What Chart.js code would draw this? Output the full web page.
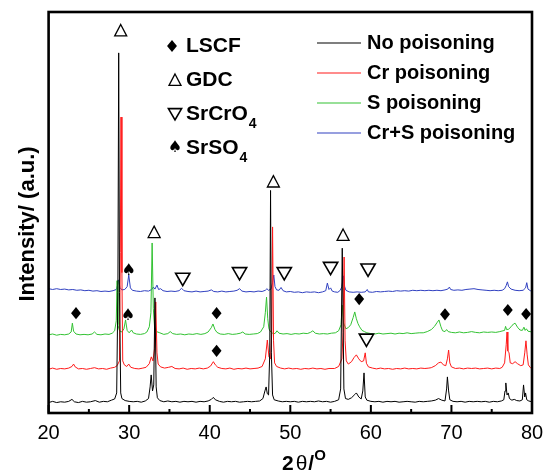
<!DOCTYPE html>
<html><head><meta charset="utf-8">
<script src="https://cdn.jsdelivr.net/npm/chart.js@4.4.0/dist/chart.umd.min.js"></script>
<style>html,body{margin:0;padding:0;background:#fff}</style>
</head><body>
<canvas id="c" width="544" height="475"></canvas>
<script>
// ---- DATA (2θ, intensity a.u. with vertical offsets as in the figure) ----
const seriesNames = ['No poisoning', 'Cr poisoning', 'S poisoning', 'Cr+S poisoning'];
const seriesColors = ['#000000', '#ff1a1a', '#33c233', '#3040c0'];

const noPoisoning = [[20,2.6],[20.5,2.9],[21,2.6],[21.5,2.8],[22,2.7],[22.5,2.9],[22.9,3.4],[23.2,2.8],[23.7,2.6],[24.2,2.9],[24.7,2.7],[25.2,2.8],[25.8,3.1],[26.3,2.7],[26.8,2.9],[27.3,2.8],[27.8,3.2],[28.2,3.5],[28.45,5],[28.6,30],[28.7,89.8],[28.8,30],[28.95,5],[29.1,3.6],[29.5,3.1],[30,2.9],[30.5,2.8],[31,2.9],[31.5,2.7],[32,3.0],[32.4,3.6],[32.6,6.5],[32.73,9.5],[32.9,5.5],[33.05,7],[33.2,28.7],[33.35,6.5],[33.5,3.8],[33.8,3.1],[34.3,2.8],[34.8,3.0],[35.3,2.8],[35.8,2.9],[36.3,2.7],[36.8,2.9],[37.3,2.8],[37.8,2.9],[38.3,2.7],[38.8,2.9],[39.3,2.8],[39.8,3.0],[40.2,3.4],[40.45,3.9],[40.7,3.3],[41.2,2.9],[41.7,2.7],[42.2,2.9],[42.7,2.8],[43.2,2.9],[43.7,2.7],[44.2,2.8],[44.7,2.9],[45.2,2.8],[45.7,2.9],[46.2,3.0],[46.6,3.6],[46.85,5.5],[47.0,6.5],[47.15,4.8],[47.3,4.5],[47.45,15],[47.55,55.5],[47.65,15],[47.8,4.5],[48,3.3],[48.5,3.0],[49,2.8],[49.5,2.9],[50,2.8],[50.5,2.9],[51,2.7],[51.5,2.9],[52,2.8],[52.5,2.9],[53,2.8],[53.5,3.0],[54,2.8],[54.5,2.9],[55,2.7],[55.5,2.9],[56,3.3],[56.25,6],[56.45,41.1],[56.65,6],[56.85,3.6],[57.2,3.4],[57.6,3.8],[58,4.6],[58.2,5.0],[58.5,4.0],[58.8,3.5],[59,5.5],[59.15,10],[59.3,4],[59.5,3.2],[60,2.9],[60.5,2.8],[61,2.9],[61.5,2.7],[62,2.9],[62.5,2.8],[63,2.9],[63.5,2.7],[64,2.8],[64.5,2.9],[65,2.8],[65.5,2.7],[66,2.9],[66.5,2.8],[67,2.9],[67.5,3.0],[68,3.2],[68.4,3.6],[68.8,3.2],[69.2,3.0],[69.4,6],[69.5,9.0],[69.65,5.5],[69.8,3.3],[70.2,2.9],[70.7,2.8],[71.2,2.9],[71.7,2.7],[72.2,2.9],[72.7,2.8],[73.2,2.9],[73.7,2.8],[74.2,2.9],[74.7,2.7],[75.2,2.9],[75.7,2.8],[76.2,3.0],[76.5,3.3],[76.65,5.5],[76.75,7.5],[76.9,4.5],[77.05,5.0],[77.2,3.6],[77.5,3.2],[77.8,3.4],[78.1,3.1],[78.5,3.0],[78.8,3.3],[78.95,7.0],[79.1,4.0],[79.2,5.0],[79.35,3.3],[79.6,3.0],[80,2.8]];

const crPoisoning = [[20,10.9],[20.5,11.2],[21,10.9],[21.5,11.1],[22,11.0],[22.5,11.2],[22.9,11.6],[23.1,12.2],[23.3,11.5],[23.7,11.0],[24.2,11.1],[24.7,10.9],[25.2,11.1],[25.7,11.3],[26.2,11.0],[26.7,11.1],[27.2,10.9],[27.7,11.2],[28.2,11.4],[28.5,11.8],[28.8,13],[28.9,40],[28.99,73.8],[29.1,35],[29.2,13],[29.4,12.0],[29.7,11.6],[29.95,12.2],[30.2,11.4],[30.7,11.1],[31.2,11.0],[31.7,11.2],[32.1,11.4],[32.5,12.3],[32.75,14.0],[32.95,13],[33.15,16],[33.3,27.7],[33.45,15],[33.6,12.2],[33.9,11.5],[34.4,11.2],[34.9,11.4],[35.3,11.6],[35.7,11.1],[36.2,11.0],[36.7,11.2],[37.2,10.9],[37.7,11.1],[38.2,11.0],[38.7,11.2],[39.2,11.0],[39.7,11.2],[40.1,11.7],[40.45,12.8],[40.7,12.0],[41,11.4],[41.5,11.1],[42,11.0],[42.5,11.2],[43,10.9],[43.5,11.1],[44,11.0],[44.5,11.2],[45,11.0],[45.5,11.1],[46,11.2],[46.5,11.6],[46.9,13.5],[47.15,18.2],[47.35,14.0],[47.55,13.5],[47.7,20],[47.8,46.4],[47.92,18],[48.05,12.5],[48.3,11.6],[48.8,11.2],[49.3,11.0],[49.8,11.2],[50.3,11.0],[50.8,11.1],[51.3,10.9],[51.8,11.1],[52.3,11.0],[52.8,11.2],[53.3,11.0],[53.8,11.1],[54.3,10.9],[54.8,11.1],[55.5,11.1],[56,11.6],[56.4,13.5],[56.55,20],[56.68,38.9],[56.8,18],[56.95,13],[57.2,12.2],[57.6,12.8],[57.9,13.8],[58.2,14.5],[58.5,13.5],[58.8,12.8],[59.1,13.0],[59.3,15.0],[59.45,12.4],[59.7,11.5],[60.2,11.2],[60.7,11.0],[61.2,11.2],[61.7,11.0],[62.2,11.1],[62.7,10.9],[63.2,11.1],[63.7,11.0],[64.2,11.2],[64.7,11.0],[65.2,11.1],[65.7,11.0],[66.2,11.2],[66.7,11.1],[67.2,11.2],[67.5,11.3],[68,11.8],[68.4,12.5],[68.7,12.7],[69,12.0],[69.3,11.8],[69.5,13.5],[69.65,15.7],[69.8,12.5],[70,11.5],[70.5,11.1],[71,11.2],[71.5,11.0],[72,11.2],[72.5,11.1],[73,11.2],[73.5,11.0],[74,11.1],[74.5,11.2],[75,11.0],[75.5,11.2],[76,11.1],[76.3,11.4],[76.6,12.5],[76.8,17],[76.9,20.2],[77,15.5],[77.15,15.0],[77.3,12.5],[77.6,12.3],[77.9,12.8],[78.2,12.3],[78.6,11.8],[78.9,12.0],[79.1,15],[79.25,18.0],[79.4,14.5],[79.55,12.0],[79.8,11.3],[80,11.2]];

const sPoisoning = [[20,19.5],[20.5,19.7],[21,19.4],[21.5,19.6],[22,19.5],[22.5,19.7],[22.8,20.2],[22.95,22.4],[23.1,20.4],[23.4,19.7],[23.9,19.5],[24.4,19.6],[24.9,19.5],[25.4,19.7],[25.7,20.2],[26,19.6],[26.5,19.5],[27,19.7],[27.5,19.6],[27.9,19.9],[28.2,20.5],[28.4,23],[28.5,33.0],[28.6,22],[28.8,20.5],[29.1,20.2],[29.35,21.0],[29.55,23.2],[29.75,20.6],[30,20.0],[30.3,20.7],[30.5,20.0],[30.9,19.7],[31.4,19.6],[31.9,19.8],[32.2,20.2],[32.5,21.5],[32.7,25],[32.85,42.4],[33,26],[33.15,21.5],[33.4,20.3],[33.8,20.0],[34.3,19.6],[34.8,19.8],[35.1,20.3],[35.4,19.8],[35.9,19.6],[36.4,19.7],[36.9,19.5],[37.4,19.7],[37.9,19.6],[38.4,19.8],[38.9,19.6],[39.4,19.8],[39.8,20.2],[40.2,21.3],[40.4,22.2],[40.65,20.8],[40.9,20.1],[41.3,19.7],[41.8,19.6],[42.3,19.8],[42.8,19.6],[43.3,19.7],[43.8,19.9],[44.1,20.2],[44.4,19.7],[44.9,19.6],[45.4,19.7],[45.9,19.8],[46.3,20.2],[46.7,21.5],[46.9,25],[47.05,28.9],[47.2,23.5],[47.35,21],[47.5,20.4],[47.8,19.9],[48.1,19.8],[48.35,20.5],[48.6,19.9],[49.1,19.7],[49.6,19.8],[50.1,19.6],[50.6,19.8],[51.1,19.7],[51.6,19.9],[52.1,19.8],[52.5,20.1],[52.8,20.5],[53.1,19.9],[53.6,19.7],[54.1,19.8],[54.6,19.7],[55.1,19.9],[55.6,20.0],[56,20.5],[56.3,22],[56.45,26.9],[56.6,22.5],[56.9,21.0],[57.2,21.3],[57.5,22.0],[57.8,23.8],[58,25.2],[58.2,23.5],[58.4,22.3],[58.6,21.5],[58.9,20.6],[59.2,20.3],[59.5,20.0],[60,19.8],[60.5,19.7],[61,19.9],[61.5,19.7],[62,19.8],[62.5,19.9],[63,19.7],[63.5,19.9],[64,19.8],[64.5,20.0],[65,19.8],[65.5,19.9],[66,20.0],[66.5,20.0],[67,20.3],[67.5,20.8],[67.9,21.6],[68.2,22.5],[68.45,23.2],[68.7,21.5],[68.9,20.5],[69.2,20.3],[69.4,20.8],[69.6,20.3],[70,20.1],[70.5,20.0],[71,20.2],[71.5,20.0],[72,20.1],[72.5,20.3],[73,20.1],[73.5,20.0],[74,20.2],[74.5,20.1],[75,20.2],[75.5,20.1],[76,20.3],[76.4,20.5],[76.6,20.6],[76.72,21.6],[76.85,20.8],[77.1,20.9],[77.4,21.5],[77.7,22.2],[77.9,22.4],[78.2,21.4],[78.5,20.7],[78.8,20.6],[79,21.4],[79.15,20.6],[79.3,21.0],[79.5,20.4],[80,20.2]];

const crSPoisoning = [[20,31.0],[20.5,30.8],[21,31.0],[21.5,30.8],[22,30.9],[22.5,30.7],[23,30.8],[23.5,30.6],[24,30.7],[24.5,30.5],[25,30.6],[25.5,30.4],[26,30.5],[26.5,30.3],[27,30.4],[27.5,30.3],[28,30.5],[28.4,30.8],[28.55,31.8],[28.7,33.2],[28.85,31.3],[29.1,30.7],[29.45,30.8],[29.75,31.5],[29.95,34.4],[30.15,31.2],[30.4,30.6],[30.9,30.4],[31.4,30.3],[31.9,30.5],[32.4,30.4],[32.8,30.8],[33,31.4],[33.2,30.9],[33.45,31.9],[33.65,30.8],[33.9,31.0],[34.2,30.5],[34.7,30.3],[35.2,30.4],[35.7,30.3],[36.2,30.5],[36.5,31.1],[36.8,30.5],[37.3,30.3],[37.8,30.2],[38.3,30.4],[38.8,30.2],[39.3,30.3],[39.8,30.4],[40.2,30.7],[40.5,30.3],[41,30.2],[41.5,30.4],[42,30.2],[42.5,30.3],[43,30.4],[43.4,30.6],[43.7,31.0],[44,30.4],[44.5,30.2],[45,30.3],[45.5,30.2],[46,30.4],[46.5,30.3],[46.9,30.6],[47.1,31.0],[47.3,30.6],[47.6,30.9],[47.8,32.5],[47.95,34.4],[48.1,31.5],[48.3,30.7],[48.6,30.6],[48.85,31.3],[49.1,30.5],[49.5,30.2],[50,30.3],[50.5,30.1],[51,30.2],[51.5,30.0],[52,30.2],[52.5,30.1],[53,30.2],[53.5,30.0],[54,30.2],[54.4,30.5],[54.6,32.4],[54.8,30.8],[55,31.2],[55.2,30.4],[55.5,30.2],[55.9,30.1],[56.2,30.6],[56.4,31.5],[56.6,34.2],[56.75,31.5],[56.9,30.6],[57.3,30.2],[57.8,30.1],[58.3,30.2],[58.8,30.1],[59.3,30.2],[59.55,30.8],[59.7,30.2],[60.2,30.1],[60.7,30.3],[61.2,30.2],[61.7,30.3],[62.2,30.4],[62.7,30.3],[63.2,30.5],[63.7,30.4],[64.2,30.5],[64.7,30.4],[65.2,30.6],[65.7,30.5],[66.2,30.6],[66.7,30.5],[67.2,30.6],[67.7,30.5],[68.2,30.6],[68.7,30.5],[69.2,30.7],[69.55,30.9],[69.75,31.4],[69.9,30.8],[70.3,30.6],[70.8,30.7],[71.3,30.6],[71.8,30.8],[72.3,30.9],[72.8,31.0],[73.3,30.8],[73.8,30.7],[74.3,30.6],[74.8,30.5],[75.3,30.6],[75.8,30.5],[76.3,30.6],[76.6,31.0],[76.8,31.8],[76.95,32.7],[77.1,31.5],[77.4,30.9],[77.9,30.6],[78.4,30.5],[78.9,30.6],[79.2,31.2],[79.35,32.5],[79.5,30.9],[79.8,30.5],[80,30.4]];

const xTickValues = [20, 30, 40, 50, 60, 70, 80];
const xMinorTicks = [25, 35, 45, 55, 65, 75];

// phase markers [2θ, height]
const gdcMarks = [[28.95,95.4],[33.1,45.1],[47.9,57.7],[56.55,44.4]];
const srcro4Marks = [[36.65,33.4],[43.7,34.8],[49.25,34.8],[55.0,36.1],[59.65,35.7],[59.45,18.2]];
const srso4Marks = [[29.95,35.5],[29.85,24.2]];
const lscfMarks = [[23.4,24.9],[40.85,24.9],[40.85,15.5],[58.55,28.4],[69.2,24.6],[77.0,25.7],[79.27,24.7]];
const phaseLegend = [['diamond','LSCF',''],['up','GDC',''],['down','SrCrO','4'],['spade','SrSO','4']];

// ---- drawing helpers ----
function drawSym(ctx, type, x, y, s) {
  ctx.save();
  ctx.strokeStyle = '#000'; ctx.fillStyle = '#000';
  ctx.beginPath();
  if (type === 'up') {
    ctx.lineWidth = 1.3;
    ctx.moveTo(x, y - s*0.5); ctx.lineTo(x + s*0.5, y + s*0.45); ctx.lineTo(x - s*0.5, y + s*0.45); ctx.closePath(); ctx.stroke();
  } else if (type === 'down') {
    ctx.lineWidth = 1.6;
    ctx.moveTo(x - s*0.55, y - s*0.45); ctx.lineTo(x + s*0.55, y - s*0.45); ctx.lineTo(x, y + s*0.5); ctx.closePath(); ctx.stroke();
  } else if (type === 'diamond') {
    ctx.moveTo(x, y - s*0.55); ctx.lineTo(x + s*0.45, y); ctx.lineTo(x, y + s*0.55); ctx.lineTo(x - s*0.45, y); ctx.closePath(); ctx.fill();
  } else if (type === 'spade') {
    ctx.font = (s*1.35) + 'px "DejaVu Sans"';
    ctx.textAlign = 'center'; ctx.textBaseline = 'middle';
    ctx.fillText('\u2660', x, y);
  }
  ctx.restore();
}

const decor = {
  id: 'decor',
  afterDraw(chart) {
    const ctx = chart.ctx, a = chart.chartArea, xs = chart.scales.x, ys = chart.scales.y;
    ctx.save();
    // frame
    ctx.strokeStyle = '#000'; ctx.lineWidth = 2.6;
    ctx.strokeRect(a.left, a.top, a.right - a.left, a.bottom - a.top);
    // inward ticks on bottom axis
    ctx.lineWidth = 2;
    xTickValues.forEach(v => { const px = xs.getPixelForValue(v); ctx.beginPath(); ctx.moveTo(px, a.bottom); ctx.lineTo(px, a.bottom - 8); ctx.stroke(); });
    xMinorTicks.forEach(v => { const px = xs.getPixelForValue(v); ctx.beginPath(); ctx.moveTo(px, a.bottom); ctx.lineTo(px, a.bottom - 4); ctx.stroke(); });
    // phase markers
    const P = (m) => [xs.getPixelForValue(m[0]), ys.getPixelForValue(m[1])];
    gdcMarks.forEach(m => { const [x,y] = P(m); drawSym(ctx, 'up', x, y, 12); });
    srcro4Marks.forEach(m => { const [x,y] = P(m); drawSym(ctx, 'down', x, y, 13); });
    srso4Marks.forEach(m => { const [x,y] = P(m); drawSym(ctx, 'spade', x, y, 12); });
    lscfMarks.forEach(m => { const [x,y] = P(m); drawSym(ctx, 'diamond', x, y, 11); });
    // phase legend
    const famB = '"Liberation Sans", Arial, sans-serif';
    phaseLegend.forEach((p, i) => {
      const y = 46 + i * 34;
      drawSym(ctx, p[0], p[0] === 'diamond' ? 172 : 175, y, p[0]==='diamond' ? 11 : 12);
      ctx.fillStyle = '#000'; ctx.font = 'bold 21px ' + famB; ctx.textAlign = 'left'; ctx.textBaseline = 'middle';
      ctx.fillText(p[1], 186, y);
      if (p[2]) { const w = ctx.measureText(p[1]).width; ctx.font = 'bold 14px ' + famB; ctx.fillText(p[2], 186 + w + 1, y + 10); }
    });
    // series legend
    chart.data.datasets.forEach((ds, i) => {
      const y = 43 + i * 30;
      ctx.strokeStyle = ds.borderColor; ctx.lineWidth = 1.2;
      ctx.beginPath(); ctx.moveTo(317, y); ctx.lineTo(361, y); ctx.stroke();
      ctx.fillStyle = '#000'; ctx.font = 'bold 20px ' + famB; ctx.textAlign = 'left'; ctx.textBaseline = 'middle';
      ctx.fillText(ds.label, 367, y);
    });
    // y title
    ctx.save();
    ctx.translate(28, 224);
    ctx.rotate(-Math.PI / 2);
    ctx.font = 'bold 22px ' + famB; ctx.textAlign = 'center'; ctx.textBaseline = 'middle'; ctx.fillStyle = '#000';
    ctx.fillText('Intensity/ (a.u.)', 0, 0);
    ctx.restore();
    // x title 2θ/°
    let x = 282; const base = 470;
    ctx.textAlign = 'left'; ctx.textBaseline = 'alphabetic'; ctx.fillStyle = '#000';
    ctx.font = 'bold 21px ' + famB; ctx.fillText('2', x, base); x += ctx.measureText('2').width + 2;
    ctx.font = '21px ' + famB; ctx.fillText('\u03B8', x, base); x += ctx.measureText('\u03B8').width + 1;
    ctx.font = 'bold 21px ' + famB; ctx.fillText('/', x, base); x += ctx.measureText('/').width;
    ctx.font = 'bold 15px ' + famB; ctx.fillText('O', x, base - 10);
    ctx.restore();
  }
};

const toXY = arr => arr.map(p => ({ x: p[0], y: p[1] }));
const allSeries = [noPoisoning, crPoisoning, sPoisoning, crSPoisoning];

new Chart(document.getElementById('c'), {
  type: 'line',
  data: {
    datasets: allSeries.map((s, i) => ({
      label: seriesNames[i], data: toXY(s), borderColor: seriesColors[i],
      borderWidth: 1, pointRadius: 0, tension: 0, fill: false
    }))
  },
  options: {
    responsive: false, animation: false, devicePixelRatio: 1,
    layout: { padding: { left: 48.6, right: 12, top: 12, bottom: 0 } },
    plugins: { legend: { display: false }, tooltip: { enabled: false } },
    scales: {
      x: {
        type: 'linear', min: 20, max: 80,
        afterBuildTicks: (s) => { s.ticks = xTickValues.map(v => ({ value: v })); },
        afterFit: (s) => { s.height = 62; s.paddingLeft = 0; s.paddingRight = 0; },
        grid: { display: false, drawTicks: false }, border: { display: false },
        ticks: { font: { size: 20, family: '"Liberation Sans", Arial, sans-serif' }, color: '#000', padding: 8, maxRotation: 0 }
      },
      y: { min: 0, max: 100, display: false }
    }
  },
  plugins: [decor]
});
</script>
</body></html>
